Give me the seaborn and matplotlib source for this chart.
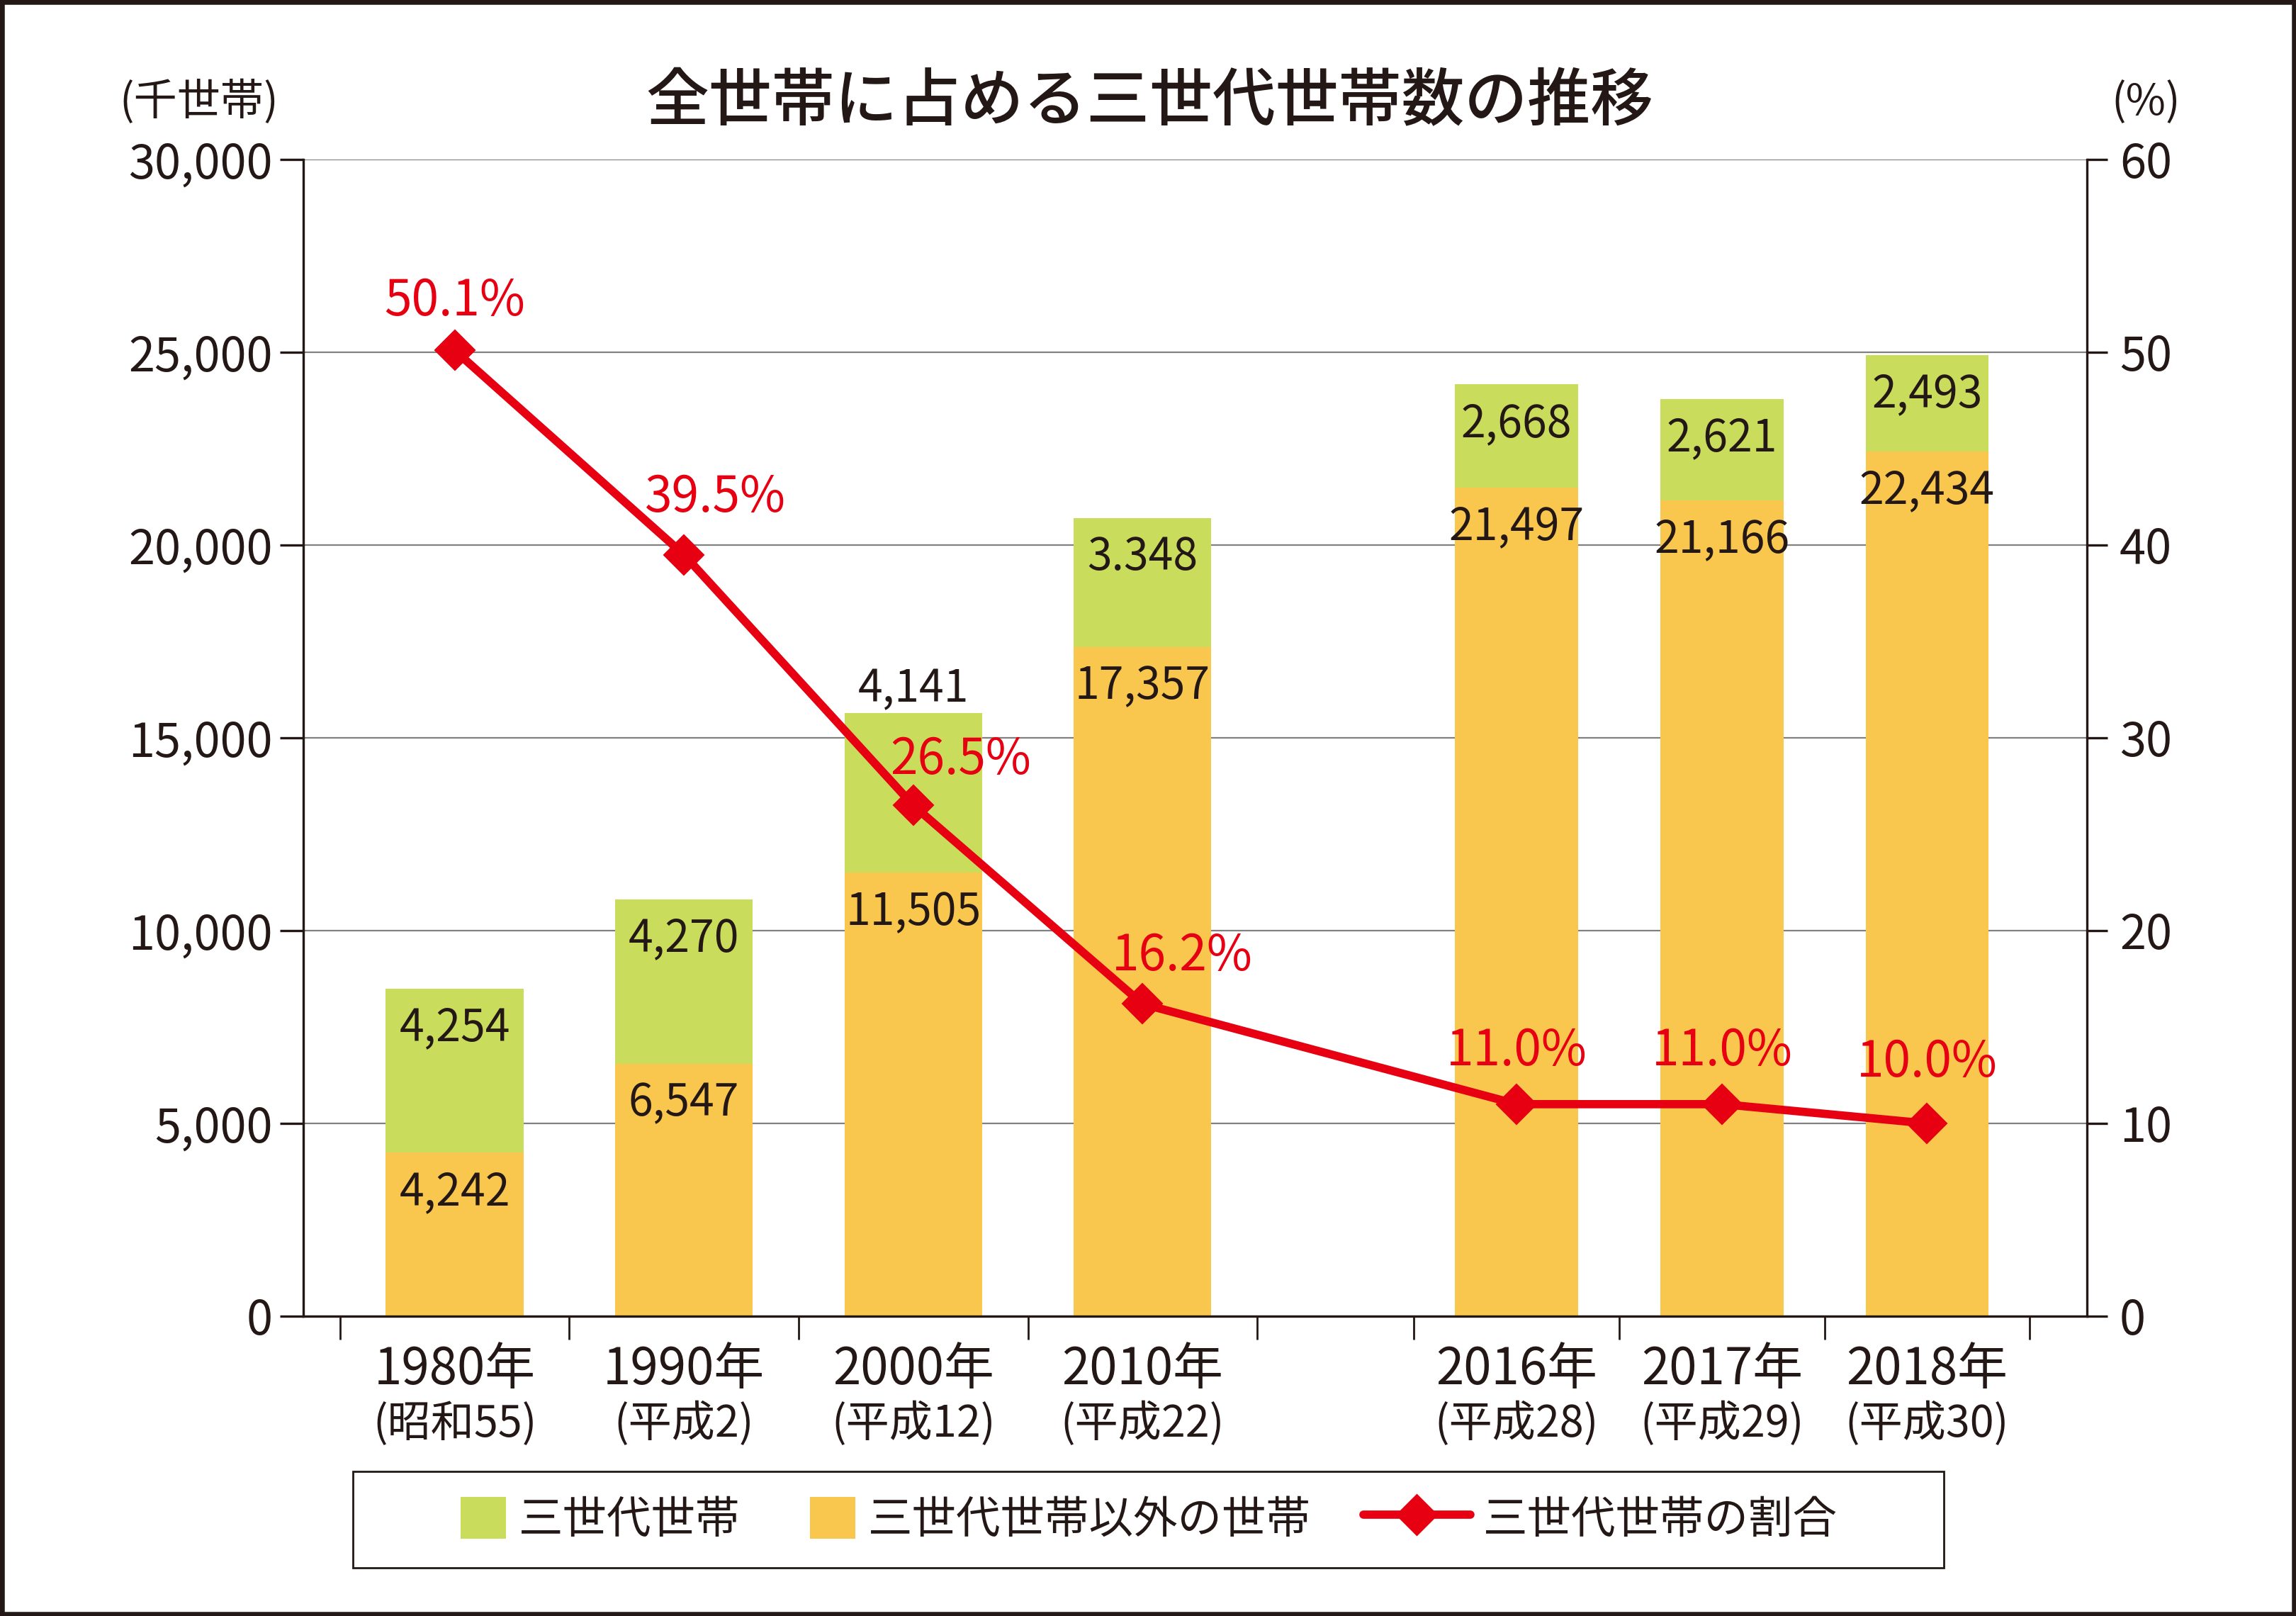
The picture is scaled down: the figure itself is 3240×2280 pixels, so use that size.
import numpy as np
import matplotlib
matplotlib.use("Agg")
import matplotlib.pyplot as plt
import matplotlib.transforms as mtransforms
from matplotlib.patches import Patch, Rectangle
from matplotlib.lines import Line2D
from matplotlib.ticker import FuncFormatter
import seaborn as sns

# data (thousand households / %)
years = ["1980年", "1990年", "2000年", "2010年", "2016年", "2017年", "2018年"]
eras = ["(昭和55)", "(平成2)", "(平成12)", "(平成22)", "(平成28)", "(平成29)", "(平成30)"]
three_gen = [4254, 4270, 4141, 3348, 2668, 2621, 2493]
three_gen_labels = ["4,254", "4,270", "4,141", "3.348", "2,668", "2,621", "2,493"]
other = [4242, 6547, 11505, 17357, 21497, 21166, 22434]
ratio = [50.1, 39.5, 26.5, 16.2, 11.0, 11.0, 10.0]
legend_labels = ["三世代世帯", "三世代世帯以外の世帯", "三世代世帯の割合"]
title = "全世帯に占める三世代世帯数の推移"

green = "#C9DC5C"
orange = "#F9C64E"
red = "#E60012"
tc = "#231815"
grid_c = "#808080"

# slot layout: 4 wide slots, an empty gap slot, then 3 narrower slots
slot_w = np.array([1, 1, 1, 1, 0.895, 0.895, 0.895])
gap_before = np.array([0, 0, 0, 0, 0.684, 0, 0])
starts = []
pos = 0.0
for w, g in zip(slot_w, gap_before):
    pos += g
    starts.append(pos)
    pos += w
starts = np.array(starts)
centers = starts + slot_w / 2
bar_w = slot_w * 0.6
tick_edges = np.unique(np.r_[starts, starts + slot_w])

# label offsets in points
green_dy = [-20, -20, 12, -20, -20, -20, -20]
ratio_off = [(0, 25), (16, 29), (24, 23), (20, 24), (0, 27), (0, 27), (0, 31)]

sns.set_theme(style="white")
plt.rcParams['font.family'] = ['Noto Sans CJK JP', 'DejaVu Sans']
plt.rcParams['text.color'] = tc

fig = plt.figure(figsize=(16.2, 11.4), dpi=200)
ax = fig.add_axes([0.1321, 0.1855, 0.7769, 0.7158])

ax.bar(centers, other, width=bar_w, color=orange, linewidth=0, zorder=2)
ax.bar(centers, three_gen, bottom=other, width=bar_w, color=green, linewidth=0, zorder=2)

ax.set_ylim(0, 30000)
ax.set_yticks(range(0, 30001, 5000))
ax.yaxis.set_major_formatter(FuncFormatter(lambda v, p: f"{v:,.0f}"))
ax.set_xlim(-0.16, tick_edges[-1] + 0.25)
ax.set_xticks(tick_edges)
ax.set_xticklabels([])
ax.yaxis.grid(True, color=grid_c, linewidth=0.8)
ax.xaxis.grid(False)
ax.set_axisbelow(True)
ax.tick_params(axis='y', left=True, length=12, width=1.2, color=tc,
               labelsize=24, labelcolor=tc, pad=3.5)
ax.tick_params(axis='x', bottom=True, length=12, width=1.0, color=tc)
for s in ["top", "right"]:
    ax.spines[s].set_visible(False)
for s in ["left", "bottom"]:
    ax.spines[s].set_color(tc)
    ax.spines[s].set_linewidth(1.2)

trans = mtransforms.blended_transform_factory(ax.transData, ax.transAxes)
for x, yr, era in zip(centers, years, eras):
    ax.text(x, -0.046, yr, transform=trans, ha='center', va='center', fontsize=25.5, color=tc)
    ax.text(x, -0.0935, era, transform=trans, ha='center', va='center', fontsize=22, color=tc)

for x, o, g, gl, dy in zip(centers, other, three_gen, three_gen_labels, green_dy):
    ax.annotate(f"{o:,}", (x, o), xytext=(0, -20), textcoords='offset points',
                ha='center', va='center', fontsize=22.5, color=tc, zorder=3)
    ax.annotate(gl, (x, o + g), xytext=(0, dy), textcoords='offset points',
                ha='center', va='center', fontsize=22.5, color=tc, zorder=3)

ax2 = ax.twinx()
sns.lineplot(x=centers, y=ratio, ax=ax2, color=red, linewidth=4.2, marker='D',
             markersize=14.5, markeredgecolor=red, zorder=5)
ax2.set_ylim(0, 60)
ax2.set_yticks(range(0, 61, 10))
ax2.grid(False)
ax2.tick_params(axis='y', right=True, length=10.5, width=1.2, color=tc,
                labelsize=24, labelcolor=tc, pad=6)
for s in ["top", "left", "bottom"]:
    ax2.spines[s].set_visible(False)
ax2.spines["right"].set_color(tc)
ax2.spines["right"].set_linewidth(1.2)

for x, r, (dx, dy) in zip(centers, ratio, ratio_off):
    ax2.annotate(f"{r:.1f}%", (x, r), xytext=(dx, dy), textcoords='offset points',
                 ha='center', va='center', fontsize=25, color=red, zorder=6)

fig.text(0.5007, 0.9365, title, ha='center', va='center', fontsize=32,
         fontweight='medium', color=tc)
fig.text(0.0866, 0.9365, "(千世帯)", ha='center', va='center', fontsize=22, color=tc)
fig.text(0.9346, 0.9365, "(%)", ha='center', va='center', fontsize=22, color=tc)

# legend: one entry each, placed like the original
handles = [Patch(facecolor=green, linewidth=0), Patch(facecolor=orange, linewidth=0),
           Line2D([], [], color=red, linewidth=4.2, marker='D', markersize=14.5,
                  markeredgecolor=red)]
legend_x = [0.2006, 0.3528, 0.5938]
handle_len = [1.024, 1.024, 2.416]
for h, lab, lx, hl in zip(handles, legend_labels, legend_x, handle_len):
    fig.legend([h], [lab], loc='center left', bbox_to_anchor=(lx, 0.0596),
               frameon=False, fontsize=22.5, handlelength=hl, handleheight=1.09,
               handletextpad=0.29, borderpad=0, borderaxespad=0, labelcolor=tc)

fig.add_artist(Rectangle((0.1537, 0.0298), 0.6929, 0.0596, transform=fig.transFigure,
                         fill=False, edgecolor=tc, linewidth=1.0))
fig.add_artist(Rectangle((0, 0), 1, 1, transform=fig.transFigure, fill=False,
                         edgecolor=tc, linewidth=4.5, clip_on=False))

fig.savefig('out.png', dpi=200)
